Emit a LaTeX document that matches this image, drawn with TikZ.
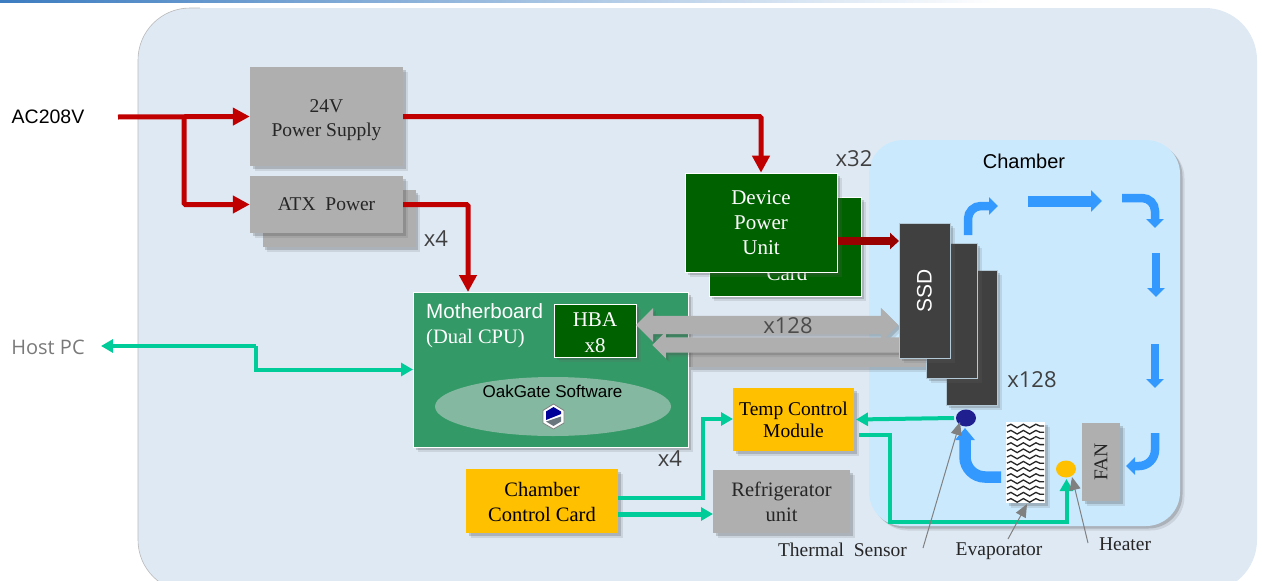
\documentclass[tikz,border=0pt]{standalone}
\usepackage{fontspec}
\setmainfont{Liberation Serif}
\setsansfont{Liberation Sans}
\newfontfamily\countfont{Open Sans}
\usetikzlibrary{arrows.meta,shadows,shapes.geometric,shapes.arrows,decorations.pathmorphing}

\definecolor{panelblue}{HTML}{DFE9F4}
\definecolor{chamberblue}{HTML}{CBE9FD}
\definecolor{boxgray}{HTML}{AFAFAF}
\definecolor{powerred}{HTML}{C00000}
\definecolor{unitgreen}{HTML}{006100}
\definecolor{boardgreen}{HTML}{339966}
\definecolor{softgreen}{HTML}{85B8A0}
\definecolor{linkgreen}{HTML}{00CC99}
\definecolor{ambercard}{HTML}{FFC000}
\definecolor{airblue}{HTML}{3399FF}
\definecolor{ssdgray}{HTML}{404040}
\definecolor{sensorblue}{HTML}{1F1F8F}
\definecolor{countgray}{HTML}{404040}
\definecolor{stripblue}{HTML}{3C7CC0}

% first line of a box, pushed down by the extra height
\newcommand{\linedrop}[1]{\rule{0pt}{#1}}

\tikzset{
    boxshadow/.style={drop shadow={shadow xshift=4.5pt, shadow yshift=-4.5pt, fill=black!60, opacity=.16}, drop shadow={shadow xshift=2.5pt, shadow yshift=-2.5pt, fill=black!70, opacity=.24}},
    plainbox/.style={rectangle, inner sep=0pt, align=center, boxshadow, font=\fontsize{19.5}{24}\selectfont},
    graybox/.style={plainbox, fill=boxgray, text=black!85},
    greenbox/.style={plainbox, fill=unitgreen, draw=white, line width=.6pt, text=white},
    amberbox/.style={plainbox, fill=ambercard, text=black},
    ssdbox/.style={rectangle, fill=ssdgray, draw=chamberblue!70!gray, line width=.6pt, minimum width=51pt, minimum height=135pt, boxshadow},
    seriflabel/.style={inner sep=0pt, text=black!85, font=\fontsize{19.5}{24}\selectfont},
    sanslabel/.style={inner sep=0pt, font=\sffamily\fontsize{20}{24}\selectfont},
    countlabel/.style={inner sep=0pt, text=countgray, font=\countfont\fontsize{22}{24}\selectfont},
    powerline/.style={draw=powerred, line width=5pt, rounded corners=1.5pt, -{Triangle[length=17pt, width=17pt]}},
    linkline/.style={draw=linkgreen, line width=4pt, -{Triangle[length=12pt, width=13pt]}},
    airflow/.style={draw=airblue, line width=8.5pt, rounded corners=13pt, -{Triangle[length=9pt, width=17pt]}},
    pointer/.style={draw=gray, line width=1pt, -{Triangle[length=13pt, width=11pt]}},
    busarrow/.style={fill=boxgray, inner xsep=0pt, boxshadow},
}

\begin{document}
\begin{tikzpicture}[x=1pt, y=-1pt]
    \useasboundingbox (0,0) rectangle (1262,581);
    \clip (0,0) rectangle (1262,581);
    \shade[left color=stripblue, right color=white] (0,0) rectangle (1000,2);

    % backgrounds
    \fill[panelblue, rounded corners=52pt] (138,8) rectangle (1257,592);
    \draw[draw=gray!55, line width=.6pt, rounded corners=52pt] (200,592) -- (138,592) -- (138,8) -- (200,8);
    \path[fill=chamberblue, rounded corners=34pt, boxshadow] (869,140) rectangle (1180,526);
    \node[sanslabel] (chamber) at (1024,161) {Chamber};

    % power
    \node[graybox, minimum width=153pt, minimum height=99pt] (psu) at (326.5,116.5) {\linedrop{21pt}24V\\Power Supply};
    \node[graybox, minimum width=153pt, minimum height=57pt] (atxback) at (339,218.5) {};
    \node[graybox, minimum width=153pt, minimum height=57pt] (atx) at (326.5,204.5) {ATX\ \ Power};
    \node[countlabel] (atxcount) at (436,239) {x4};
    \node[sanslabel, font=\sffamily\fontsize{19.5}{24}\selectfont] (ac) at (48,117) {AC208V};
    \coordinate (acin) at (118,117);
    \coordinate (acsplit) at (184,117);

    % device power
    \node[greenbox, minimum width=152pt, minimum height=99pt] (dpuback) at (785,246.5) {};
    \node[text=white, inner sep=0pt, font=\fontsize{21}{25}\selectfont] (dpucard) at (787,273) {Card};
    \node[greenbox, minimum width=152pt, minimum height=99pt, font=\fontsize{21}{25}\selectfont] (dpu) at (761,222.5) {Device\\Power\\Unit};
    \node[countlabel] (dpucount) at (854,159) {x32};

    % motherboard
    \fill[boxgray, boxshadow] (688,352) rectangle (926,367);
    \node[greenbox, fill=boardgreen, minimum width=275pt, minimum height=155pt] (board) at (550.5,369.5) {};
    \node[sanslabel, text=white, anchor=west, font=\sffamily\fontsize{20.6}{24}\selectfont] (boardname) at (426,311) {Motherboard};
    \node[seriflabel, text=white, anchor=west, font=\fontsize{20.5}{24}\selectfont] (boardcpu) at (426,338.5) {(Dual CPU)};
    \node[greenbox, minimum width=82pt, minimum height=53pt, font=\fontsize{21}{26}\selectfont] (hba) at (595,330.5) {\linedrop{18pt}HBA\\x8};
    \node[ellipse, fill=softgreen, minimum width=236pt, minimum height=59pt, inner sep=0pt] (software) at (553,406.5) {};
    \node[sanslabel, font=\sffamily\fontsize{17}{20}\selectfont] (softname) at (552.5,391) {OakGate Software};
    \fill[white, draw=gray, line width=.8pt] (553.5,404) -- (564,410.5) -- (564,423) -- (553.5,429) -- (543,423) -- (543,410.5) -- cycle;
    \fill[blue!60!black] (553.5,407) -- (561,411.5) -- (561,414) -- (546,420) -- (546,411.5) -- cycle;
    \fill[black!65!cyan!50!gray] (561,416.5) -- (561,421.5) -- (553.5,426) -- (546,421.5) -- cycle;
    \node[countlabel] (boardcount) at (670,459) {x4};

    % buses
    \node[busarrow, double arrow, inner ysep=9pt, double arrow head extend=8pt, double arrow head indent=0pt, minimum height=262pt] (busout) at (767,325) {};
    \node[busarrow, single arrow, inner ysep=7.5pt, single arrow head extend=6pt, shape border rotate=180, minimum height=250pt, anchor=tip] (busin) at (652,345) {};
    \node[countlabel, text=black!70] (buscount) at (788,326) {x128};

    % drives
    \node[ssdbox] (ssdc) at (971.5,338) {};
    \node[ssdbox] (ssdb) at (951.5,311) {};
    \node[ssdbox, text=white, font=\sffamily\fontsize{21}{24}\selectfont] (ssda) at (924.5,290.5) {\rotatebox{90}{SSD}};
    \node[countlabel] (ssdcount) at (1032,380) {x128};

    % control
    \node[amberbox, minimum width=121pt, minimum height=63pt, font=\fontsize{19.5}{22}\selectfont] (tempctl) at (793.5,419.5) {Temp Control\\Module};
    \node[graybox, minimum width=137pt, minimum height=63pt, font=\fontsize{20.5}{25}\selectfont] (fridge) at (781.5,501.5) {\linedrop{16pt}Refrigerator\\unit};
    \node[amberbox, minimum width=152pt, minimum height=64pt, font=\fontsize{20.5}{25}\selectfont] (chamberctl) at (542,501) {\linedrop{16pt}Chamber\\Control Card};
    \node[countlabel, text=gray!95!black, font=\countfont\fontsize{20}{24}\selectfont] (host) at (48,347) {Host PC};

    % chamber parts
    \node[rectangle, fill=white, minimum width=39pt, minimum height=81pt, inner sep=0pt, boxshadow] (evap) at (1025.5,462.5) {};
    \foreach \row in {0,...,12}
        \draw[black!85, line width=1.3pt, decorate, decoration={snake, amplitude=1.8pt, segment length=12.5pt}] (1007,426+\row*6.2) -- (1044,426+\row*6.2);
    \node[graybox, minimum width=38pt, minimum height=78pt, font=\fontsize{19.5}{20}\selectfont] (fan) at (1101,462) {\rotatebox{90}{FAN}};
    \node[ellipse, fill=sensorblue, minimum width=20pt, minimum height=17pt, inner sep=0pt] (sensor) at (966,418) {};
    \node[ellipse, fill=ambercard, minimum width=20pt, minimum height=17pt, inner sep=0pt] (heater) at (1066,469) {};

    % power connectors
    \draw[powerline] (acin) -- (psu.west);
    \draw[powerline] (acsplit) |- (atx.west);
    \draw[powerline] (psu.east) -| (dpu.north);
    \coordinate (boardin) at (468,292);
    \draw[powerline] (atx.east) -| (boardin);
    \coordinate (dpuout) at (837.5,241);
    \coordinate (ssdin) at (899,241);
    \draw[draw=red!60!black, line width=8pt, -{Triangle[length=9pt, width=16pt]}] (dpuout) -- (ssdin);

    % green connectors
    \coordinate (boardlink) at (413,369.5);
    \coordinate (hosttip) at (101,346);
    \coordinate (hostknee) at (256,346);
    \draw[linkline] (hostknee) -- (hosttip);
    \draw[linkline] (hostknee) |- (boardlink);
    \coordinate (ctlup) at (618,498);
    \coordinate (tempin) at (733,419);
    \draw[linkline, line width=3.5pt] (ctlup) -| (703,419) -- (tempin);
    \coordinate (ctlright) at (618,514);
    \coordinate (fridgein) at (713,514);
    \draw[linkline, line width=5pt] (ctlright) -- (fridgein);
    \coordinate (sensorout) at (954,418);
    \coordinate (tempback) at (856,419.5);
    \draw[linkline] (sensorout) -- (tempback);
    \coordinate (tempout) at (859,435);
    \coordinate (heaterin) at (1066.5,479);
    \draw[linkline] (tempout) -- (890,435) -- (890,522) -- (1066.5,522) -- (heaterin);

    % air flow
    \draw[airflow] (968,235) |- (998,206);
    \draw[airflow, line width=11pt, -{Triangle[length=11pt, width=21pt]}] (1028,201) -- (1102,201);
    \draw[airflow] (1122,198) -| (1155,228);
    \draw[airflow] (1156,253) -- (1156,297);
    \draw[airflow] (1155,344) -- (1155,388);
    \draw[airflow, rounded corners=16pt] (1155,433) |- (1126,466);
    \draw[airflow, line width=11.5pt, rounded corners=20pt, -{Triangle[length=12pt, width=19pt]}] (1001,477) -| (965,428);

    % labels
    \node[seriflabel] (sensorname) at (842.5,550) {Thermal\ \ Sensor};
    \node[seriflabel] (evapname) at (999,551) {Evaporator};
    \node[seriflabel] (heatername) at (1125,544) {Heater};
    \coordinate (sensorfoot) at (923,548);
    \coordinate (sensortip) at (960,422);
    \coordinate (evapfoot) at (1008,539);
    \coordinate (evaptip) at (1027,504);
    \coordinate (heaterfoot) at (1088,543);
    \coordinate (heatertip) at (1072,477);
    \draw[pointer] (sensorfoot) -- (sensortip);
    \draw[pointer] (evapfoot) -- (evaptip);
    \draw[pointer] (heaterfoot) -- (heatertip);
\end{tikzpicture}
\end{document}
